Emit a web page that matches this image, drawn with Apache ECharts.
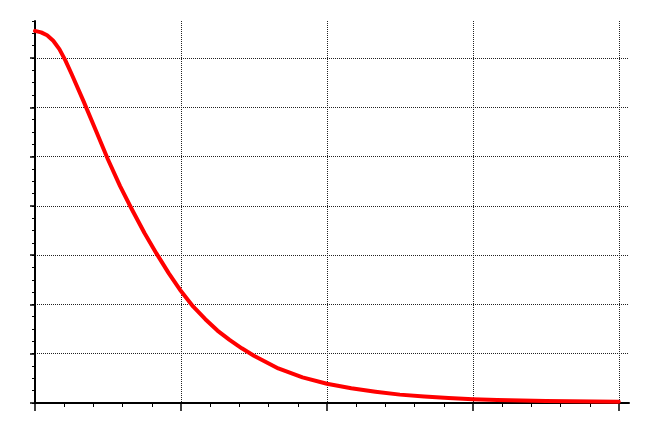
<!DOCTYPE html>
<html>
<head>
<meta charset="utf-8">
<script src="https://cdn.jsdelivr.net/npm/echarts@6/dist/echarts.min.js"></script>
<style>
  html, body { margin: 0; padding: 0; background: #fff; }
  #chart { width: 665px; height: 434px; }
</style>
</head>
<body>
<div id="chart"></div>
<script>
// sample positions and curve values
var xValues = [0, 0.042, 0.083, 0.125, 0.167, 0.208, 0.25, 0.333, 0.417, 0.5, 0.583, 0.667, 0.75, 0.833,
               0.917, 1, 1.083, 1.167, 1.25, 1.333, 1.417, 1.5, 1.667, 1.833,
               2, 2.167, 2.333, 2.5, 2.667, 2.833, 3, 3.167, 3.333, 3.5, 3.667, 3.833, 4];
var yValues = [7.55, 7.52, 7.46, 7.35, 7.18, 6.95, 6.68, 6.12, 5.53, 4.94, 4.4, 3.91, 3.45, 3.03,
               2.63, 2.27, 1.96, 1.7, 1.47, 1.28, 1.11, 0.96, 0.7, 0.52,
               0.39, 0.3, 0.23, 0.17, 0.13, 0.1, 0.075, 0.06, 0.05, 0.04, 0.035, 0.03, 0.025];

// axis ranges and tick steps
var xMax = 4.07, yMax = 7.75;
var xTickMax = 4, yTickMax = 7;

var points = [];
for (var i = 0; i < xValues.length; i++) {
    points.push([xValues[i], yValues[i]]);
}

var gridDots = { show: true, lineStyle: { color: '#222', width: 1, type: 'dotted' } };
var off = { show: false };

var chart = echarts.init(document.getElementById('chart'));
chart.setOption({
    animation: false,
    backgroundColor: '#fff',
    grid: [
        // series + axis lines
        { left: 35, right: 36, top: 21, bottom: 31 },
        // x ticks / vertical grid, y minor ticks
        { left: 35, right: 46, top: 21, bottom: 31 },
        // y major ticks / horizontal grid
        { left: 35, right: 36, top: 58, bottom: 31 }
    ],
    xAxis: [
        { gridIndex: 0, type: 'value', min: 0, max: xMax, position: 'bottom',
          axisLine: { show: true, lineStyle: { color: '#000', width: 2 } },
          axisTick: off, axisLabel: off, splitLine: off },
        { gridIndex: 1, type: 'value', min: 0, max: xTickMax, interval: 1, position: 'bottom',
          axisLine: off, axisLabel: off,
          axisTick: { show: true, length: 8, lineStyle: { color: '#000', width: 1.5 } },
          minorTick: { show: true, splitNumber: 5, length: 4, lineStyle: { color: '#000', width: 1 } },
          splitLine: gridDots },
        { gridIndex: 2, type: 'value', min: 0, max: 1, show: false }
    ],
    yAxis: [
        { gridIndex: 0, type: 'value', min: 0, max: yMax, position: 'left',
          axisLine: { show: true, lineStyle: { color: '#000', width: 2 } },
          axisTick: off, axisLabel: off, splitLine: off },
        { gridIndex: 1, type: 'value', min: 0, max: yMax, interval: 0.25, position: 'left',
          axisLine: off, axisLabel: off, splitLine: off,
          axisTick: { show: true, length: 3, lineStyle: { color: '#000', width: 1 } } },
        { gridIndex: 2, type: 'value', min: 0, max: yTickMax, interval: 1, position: 'left',
          axisLine: off, axisLabel: off,
          axisTick: { show: true, length: 5, lineStyle: { color: '#000', width: 1.5 } },
          splitLine: gridDots }
    ],
    series: [{
        type: 'line',
        xAxisIndex: 0,
        yAxisIndex: 0,
        data: points,
        showSymbol: false,
        symbol: 'none',
        clip: false,
        z: 5,
        lineStyle: { color: '#ff0000', width: 4, cap: 'round', join: 'round' }
    }]
});
</script>
</body>
</html>
